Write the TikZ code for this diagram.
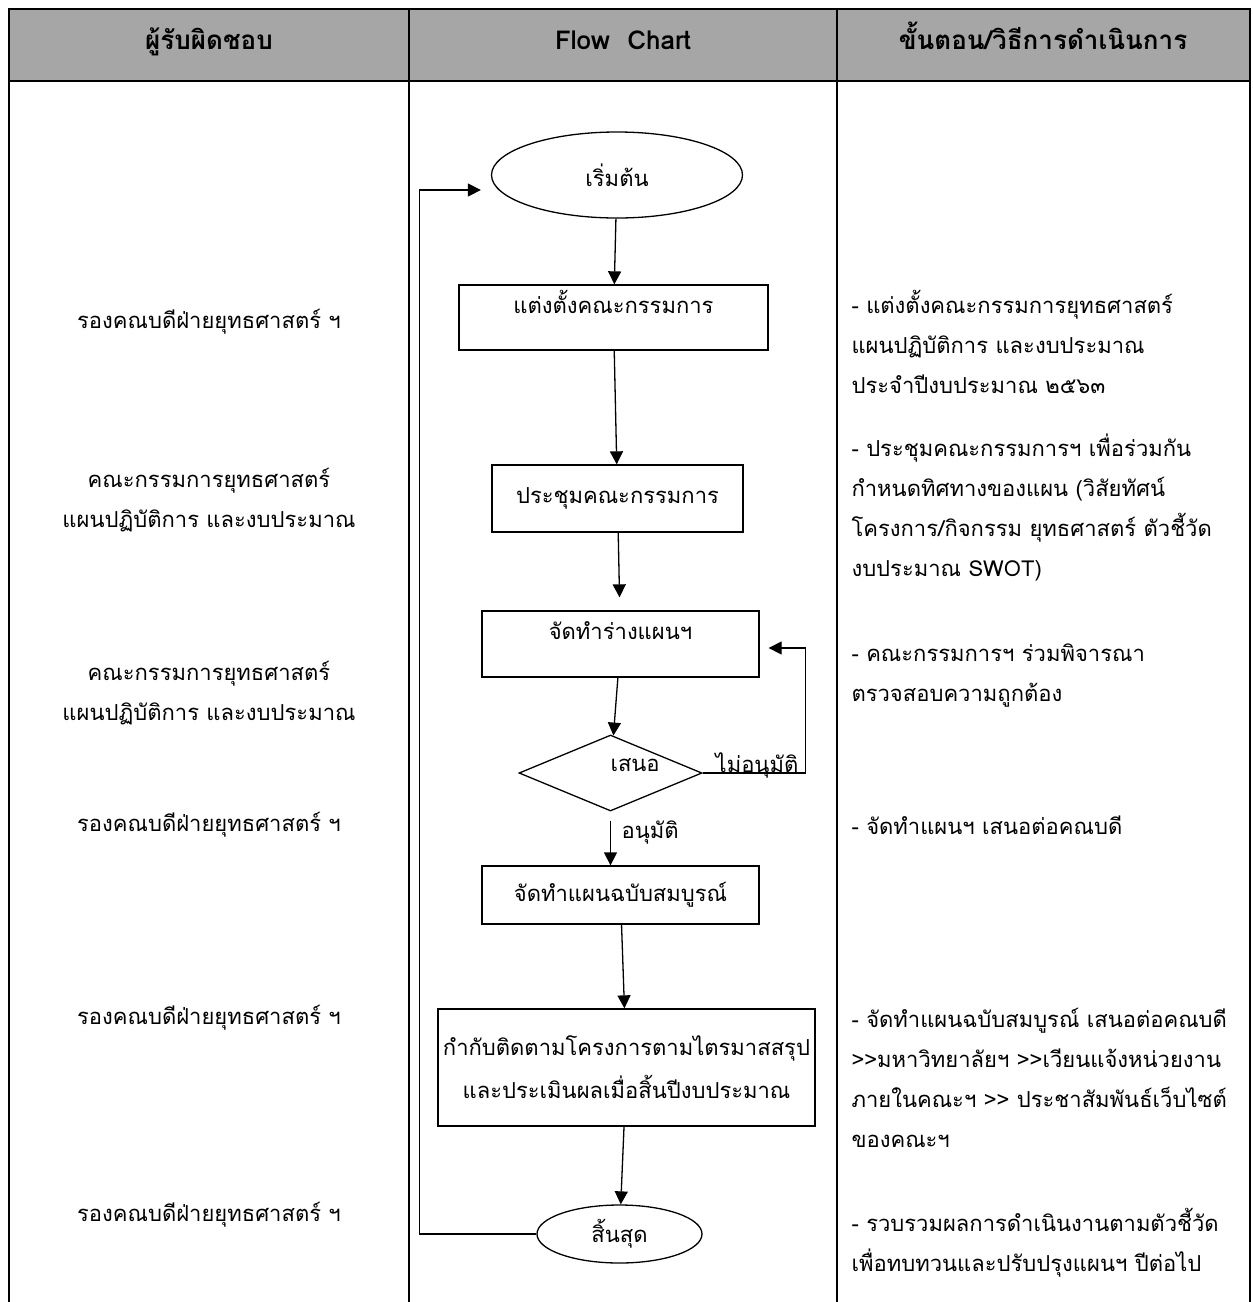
\documentclass[tikz,border=0pt]{standalone}
\usepackage{fontspec}
\setmainfont[Script=Thai]{Loma}
\usetikzlibrary{shapes.geometric, arrows.meta}
\definecolor{headgray}{HTML}{A6A6A6}

\begin{document}
\begin{tikzpicture}[x=1pt, y=-1pt,
  every node/.style={font=\fontsize{22}{40}\selectfont},
  grid/.style={line width=2pt},
  stepbox/.style={draw, line width=1.3pt, rectangle, inner sep=0pt, align=center},
  term/.style={draw, line width=1.3pt, ellipse, inner sep=0pt},
  decision/.style={draw, line width=1.3pt, diamond, inner sep=0pt},
  flow/.style={line width=1.3pt, -{Triangle[length=13pt,width=13pt]}},
  head/.style={font=\fontsize{26}{30}\selectfont\bfseries, anchor=base},
  who/.style={anchor=base, align=center},
  how/.style={anchor=base west, align=left}]
\useasboundingbox (0,0) rectangle (1253,1302);

\fill[headgray] (9,9) rectangle (1250,81);
\draw[grid] (9,1302) -- (9,9) -- (1250,9) -- (1250,1302);
\draw[grid] (9,81) -- (1250,81);
\draw[grid] (409,9) -- (409,1302);
\draw[grid] (837,9) -- (837,1302);

\node[head] (hwho) at (209,49) {ผู้รับผิดชอบ};
\node[head] (hflow) at (623,49) {Flow\ \ Chart};
\node[head] (hhow) at (1043,49) {ขั้นตอน/วิธีการดำเนินการ};

\node[who] (w1) at (209,328) {รองคณบดีฝ่ายยุทธศาสตร์ ฯ};
\node[who] (w2) at (209,527) {คณะกรรมการยุทธศาสตร์\\แผนปฏิบัติการ และงบประมาณ};
\node[who] (w3) at (209,720) {คณะกรรมการยุทธศาสตร์\\แผนปฏิบัติการ และงบประมาณ};
\node[who] (w4) at (209,831) {รองคณบดีฝ่ายยุทธศาสตร์ ฯ};
\node[who] (w5) at (209,1024) {รองคณบดีฝ่ายยุทธศาสตร์ ฯ};
\node[who] (w6) at (209,1221) {รองคณบดีฝ่ายยุทธศาสตร์ ฯ};

\node[term, minimum width=251pt, minimum height=86pt] (start) at (617,175) {เริ่มต้น};
\node[stepbox, minimum width=309pt, minimum height=65pt, text height=18pt, text depth=26pt] (appoint) at (613.5,317.5) {แต่งตั้งคณะกรรมการ};
\node[stepbox, minimum width=251pt, minimum height=67pt] (meet) at (617.5,498.5) {ประชุมคณะกรรมการ};
\node[stepbox, minimum width=277pt, minimum height=66pt, text height=18pt, text depth=28pt] (draft) at (620.5,644) {จัดทำร่างแผนฯ};
\node[decision, minimum width=183pt, minimum height=76pt, text depth=16pt] (propose) at (610.5,773) {\rlap{เสนอ}};
\node[stepbox, minimum width=277pt, minimum height=58pt] (final) at (620.5,895) {จัดทำแผนฉบับสมบูรณ์};
\node[stepbox, minimum width=377pt, minimum height=117pt, font=\fontsize{22}{43}\selectfont] (monitor) at (626.5,1067.5) {กำกับติดตามโครงการตามไตรมาสสรุป\\และประเมินผลเมื่อสิ้นปีงบประมาณ};
\node[term, minimum width=165pt, minimum height=58pt] (stop) at (619.5,1234) {สิ้นสุด};

\node[anchor=base] (reject) at (757,772) {ไม่อนุมัติ};
\node[anchor=base west] (accept) at (618,838) {อนุมัติ};

\draw[flow] (start) -- (appoint);
\draw[flow] (appoint) -- (meet);
\draw[flow, shorten >=13pt] (meet) -- (draft);
\draw[flow] (draft) -- (propose);
\draw[flow] ([shift={(0,9)}]propose.south) -- (propose.south |- final.north);
\draw[flow] (propose.east) -- ++(103,0) |- ([shift={(9,4)}]draft.east);
\draw[flow] (final) -- (monitor);
\draw[flow] (monitor) -- (stop);
\draw[flow] (stop.west) -- ++(-117,0) |- ([shift={(-10,15)}]start.west);

\node[how] (h1) at (848,393) {- แต่งตั้งคณะกรรมการยุทธศาสตร์\\แผนปฏิบัติการ และงบประมาณ\\ประจำปีงบประมาณ ๒๕๖๓};
\node[how] (h2) at (848,576) {- ประชุมคณะกรรมการฯ เพื่อร่วมกัน\\กำหนดทิศทางของแผน (วิสัยทัศน์\\โครงการ/กิจกรรม ยุทธศาสตร์ ตัวชี้วัด\\งบประมาณ SWOT)};
\node[how] (h3) at (848,701) {- คณะกรรมการฯ ร่วมพิจารณา\\ตรวจสอบความถูกต้อง};
\node[how] (h4) at (848,834) {- จัดทำแผนฯ เสนอต่อคณบดี};
\node[how] (h5) at (848,1147) {- จัดทำแผนฉบับสมบูรณ์ เสนอต่อคณบดี\\>{}>มหาวิทยาลัยฯ >{}>เวียนแจ้งหน่วยงาน\\ภายในคณะฯ >{}> ประชาสัมพันธ์เว็บไซต์\\ของคณะฯ};
\node[how] (h6) at (848,1271) {- รวบรวมผลการดำเนินงานตามตัวชี้วัด\\เพื่อทบทวนและปรับปรุงแผนฯ ปีต่อไป};
\end{tikzpicture}
\end{document}
